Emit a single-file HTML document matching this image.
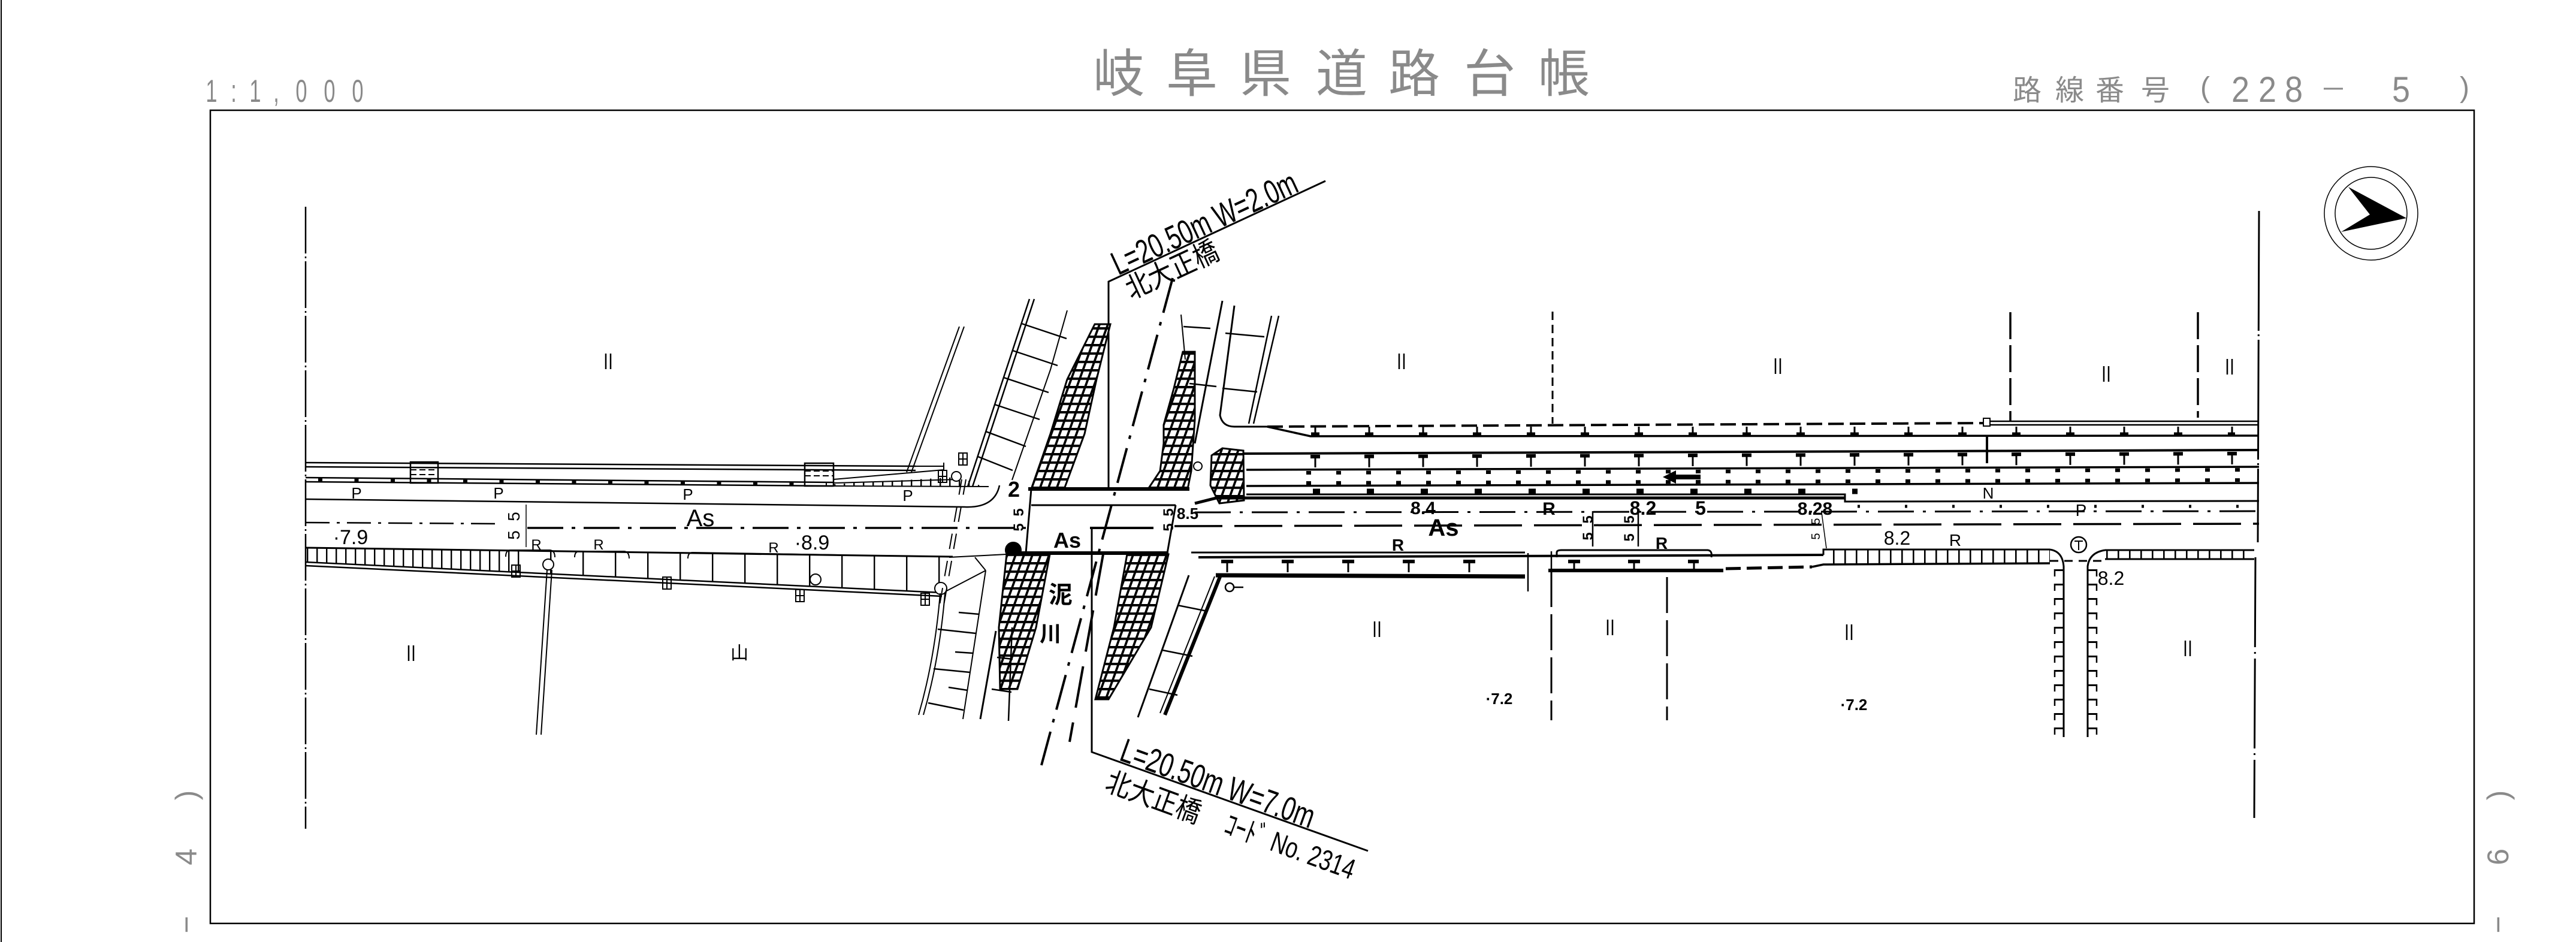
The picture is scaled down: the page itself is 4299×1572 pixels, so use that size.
<!DOCTYPE html>
<html><head><meta charset="utf-8"><title>岐阜県道路台帳</title>
<style>
html,body{margin:0;padding:0;background:#fff;width:4299px;height:1572px;overflow:hidden}
svg{display:block}
</style></head><body>
<svg xmlns="http://www.w3.org/2000/svg" width="4299" height="1572" viewBox="0 0 4299 1572" font-family="'Liberation Sans','Noto Sans CJK JP',sans-serif">
<defs>
<pattern id="grid" width="14" height="14" patternUnits="userSpaceOnUse" patternTransform="skewX(-20)">
<rect width="14" height="14" fill="#fff"/><rect width="14" height="4" fill="#000"/><rect width="4" height="14" fill="#000"/>
</pattern>
<pattern id="vt16" width="16" height="300" patternUnits="userSpaceOnUse"><rect width="2.4" height="300" fill="#000"/></pattern>
<pattern id="vt54" width="54" height="300" patternUnits="userSpaceOnUse"><rect width="2.4" height="300" fill="#000"/></pattern>
<pattern id="vt19" width="19" height="300" patternUnits="userSpaceOnUse"><rect width="2.6" height="300" fill="#000"/></pattern>
<g id="ii"><path d="M-4 -13V13M4 -13V13" stroke="#000" stroke-width="2.5" fill="none"/></g>
<g id="sq"><path d="M-7 -10H7V10H-7ZM-7 0H7M0 -10V10" stroke="#000" stroke-width="2" fill="none"/></g>
</defs>
<rect width="4299" height="1572" fill="#fff"/>

<!-- ===== Header text ===== -->
<g fill="#8a8a8a" font-size="53" text-anchor="middle">
<text transform="translate(353,170) scale(0.65,1)">1</text>
<text transform="translate(390,170) scale(0.65,1)">:</text>
<text transform="translate(426,170) scale(0.65,1)">1</text>
<text transform="translate(461,170) scale(0.65,1)">,</text>
<text transform="translate(503,170) scale(0.65,1)">0</text>
<text transform="translate(550,170) scale(0.65,1)">0</text>
<text transform="translate(597,170) scale(0.65,1)">0</text>
</g>
<g fill="#8a8a8a" font-size="86" text-anchor="middle">
<text x="1867" y="153">岐</text>
<text x="1989" y="153">阜</text>
<text x="2112" y="153">県</text>
<text x="2239" y="153">道</text>
<text x="2360" y="153">路</text>
<text x="2486" y="153">台</text>
<text x="2610" y="153">帳</text>
</g>
<g fill="#8a8a8a" font-size="48" text-anchor="middle">
<text x="3383" y="167">路</text>
<text x="3454" y="167">線</text>
<text x="3521" y="167">番</text>
<text x="3597" y="167">号</text>
<text x="3680" y="162">(</text>
<text x="4113" y="162">)</text>
</g>
<g fill="#8a8a8a" font-size="60" text-anchor="middle">
<text transform="translate(3739,170) scale(0.9,1)">2</text>
<text transform="translate(3784,170) scale(0.9,1)">2</text>
<text transform="translate(3828,170) scale(0.9,1)">8</text>
<text transform="translate(4007,170) scale(0.9,1)">5</text>
</g>
<line x1="3878" y1="148" x2="3910" y2="148" stroke="#8a8a8a" stroke-width="3"/>

<!-- side rotated labels -->
<g fill="#8a8a8a" font-size="50" text-anchor="middle">
<text transform="translate(311,1327) rotate(-90)" dy="17">)</text>
<text transform="translate(311,1430) rotate(-90)" dy="17">4</text>
<text transform="translate(311,1543) rotate(-90)" dy="17">−</text>
<text transform="translate(4169,1327) rotate(-90)" dy="17">)</text>
<text transform="translate(4169,1430) rotate(-90)" dy="17">6</text>
<text transform="translate(4169,1543) rotate(-90)" dy="17">−</text>
</g>

<g fill="none" stroke="#000" stroke-width="2">
<!-- page edge & frame -->
<line x1="2" y1="0" x2="2" y2="1572"/>
<path d="M351 184H4129V1541H351Z" stroke-width="2.5"/>

<!-- compass -->
<circle cx="3957" cy="356" r="78" stroke-width="1.5"/>
<circle cx="3957" cy="356" r="60" stroke-width="1.5"/>
<polygon points="4016,364 3919,312 3955,358 3907,387" fill="#000" stroke="none"/>

<!-- boundaries -->
<line x1="510" y1="345" x2="510" y2="1383" stroke-width="2.5" stroke-dasharray="78 5 3 5"/>
<line x1="3770" y1="352" x2="3768" y2="905" stroke-width="3" stroke-dasharray="200 6 3 6"/>
<line x1="3764" y1="930" x2="3762" y2="1365" stroke-width="3" stroke-dasharray="150 8 3 8"/>
<line x1="2591" y1="520" x2="2591" y2="707" stroke-width="3" stroke-dasharray="14 8"/>
<line x1="3355" y1="521" x2="3355" y2="703" stroke-width="3.5" stroke-dasharray="45 10"/>
<line x1="3668" y1="521" x2="3668" y2="697" stroke-width="3.5" stroke-dasharray="45 10"/>
<line x1="2589" y1="953" x2="2589" y2="1202" stroke-width="3" stroke-dasharray="60 12"/>
<line x1="2782" y1="963" x2="2782" y2="1202" stroke-width="3" stroke-dasharray="60 12"/>

<!-- ===== West road ===== -->
<path d="M510 772L1528 778M510 779L1528 785" stroke-width="2.5"/>
<path d="M510 797L1390 805M510 804L1390 811" stroke-width="2.5"/>
<rect x="685" y="771" width="46" height="35" stroke-width="2.5"/>
<path d="M685 784H731M685 792H731" stroke-dasharray="10 5"/>
<rect x="1343" y="773" width="48" height="38" stroke-width="2.5"/>
<path d="M1343 786H1391M1343 794H1391" stroke-dasharray="10 5"/>
<line x1="531" y1="800" x2="1380" y2="807" stroke-width="6" stroke-dasharray="7 53.5"/>
<path d="M1391 811L1650 812M1391 800L1575 784M1391 806L1600 800M1528 778L1575 778M1575 784L1575 772" stroke-width="2"/>
<polygon points="1391,808 1600,796 1640,812 1391,812" fill="url(#vt16)" stroke="none"/>
<path d="M510 833L1610 846Q1660 848 1668 810" stroke-width="2.5"/>
<line x1="510" y1="872" x2="835" y2="874" stroke-width="2.5" stroke-dasharray="40 12 5 12"/>
<line x1="880" y1="881" x2="1712" y2="881" stroke-width="3.5" stroke-dasharray="60 14 6 14"/>
<line x1="878" y1="842" x2="878" y2="913" stroke-width="1.5"/>
<!-- south curb -->
<line x1="510" y1="914" x2="1590" y2="929" stroke-width="3"/>
<path d="M844 929Q844 918 852 918H918Q926 919 926 930M959 930Q959 920 967 920H1042Q1050 921 1050 932M1148 932Q1148 922 1156 922L1400 926" stroke-width="2"/>
<polygon points="510,914 860,919 860,955 510,938" fill="url(#vt16)" stroke="none"/>
<polygon points="860,919 1590,929 1572,989 860,955" fill="url(#vt54)" stroke="none"/>
<path d="M510 938L1572 989M510 944L1572 995" stroke-width="2.5"/>
<use href="#sq" x="861" y="953"/>
<use href="#sq" x="1113" y="973"/>
<use href="#sq" x="1335" y="994"/>
<use href="#sq" x="1544" y="1000"/>
<use href="#sq" x="1607" y="766"/>
<use href="#sq" x="1573" y="795"/>
<circle cx="915" cy="942" r="9" fill="#fff"/>
<circle cx="1361" cy="967" r="9" fill="#fff"/>
<circle cx="1570" cy="982" r="10" fill="#fff"/>
<circle cx="1596" cy="795" r="8" fill="#fff"/>
<path d="M913 951L895 1226M921 951L903 1226"/>
<!-- old boundary // marks -->
<path d="M1605 800L1568 1010M1612 800L1575 1010" stroke-dasharray="26 20"/>

<!-- NW slanted lines & embankment -->
<path d="M1513 788L1601 545M1521 788L1609 545"/>
<path d="M1615 812L1718 499M1623 812L1726 499" stroke-width="2.5"/>
<path d="M1689 801L1753 617L1781 518"/>
<path d="M1705 540L1780 565M1690 585L1765 610M1675 630L1750 655M1660 675L1735 700M1645 720L1712 745M1632 762L1690 785" stroke-width="2.5"/>

<!-- ===== Bridge ===== -->
<path d="M1716 816H1985" stroke-width="6"/>
<path d="M1721 843H1962" stroke-width="3"/>
<path d="M1700 923H1950" stroke-width="6"/>
<path d="M1721 816L1712 923M1962 843L1948 923" stroke-width="3"/>
<path d="M1819 881H1925" stroke-width="4"/>
<circle cx="1691" cy="918" r="13" fill="#000"/>
<path d="M1850 816V470L2212 302" stroke-width="3"/>
<path d="M1822 881V1255L2283 1420" stroke-width="3"/>
<line x1="1957" y1="464" x2="1738" y2="1277" stroke-width="4" stroke-dasharray="60 16 6 16"/>
<path d="M1841 925L1785 1238" stroke-width="4" stroke-dasharray="70 25"/>

<!-- grids -->
<polygon points="1721,816 1753,724 1781,633 1827,541 1853,541 1830,633 1810,724 1776,816" fill="url(#grid)" stroke-width="3"/>
<polygon points="1916,816 1936,786 1942,740 1942,709 1959,648 1974,587 1994,587 1994,700 1988,786 1982,816" fill="url(#grid)" stroke-width="3"/>
<polygon points="2022,760 2040,748 2075,752 2076,835 2035,840 2020,810" fill="url(#grid)" stroke-width="3"/>
<polygon points="1680,925 1752,925 1729,1047 1698,1150 1669,1150 1667,1047" fill="url(#grid)" stroke-width="3"/>
<polygon points="1881,925 1950,925 1921,1047 1850,1167 1828,1167 1859,1047" fill="url(#grid)" stroke-width="3"/>

<!-- west-south embankment -->
<path d="M1569 990Q1560 1100 1533 1193M1577 990Q1568 1100 1541 1193" stroke-width="2"/>
<path d="M1645 952L1607 1200M1578 987L1645 952M1627 930L1645 952M1584 930L1680 925" stroke-width="2"/>
<path d="M1600 1022L1634 1025M1565 1050L1629 1057M1594 1088L1624 1090M1558 1116L1619 1122M1583 1147L1615 1152M1549 1173L1608 1185" stroke-width="2.5"/>
<path d="M1662 1053L1636 1200" stroke-width="3"/>
<path d="M1689 1047L1683 1203" stroke-width="2.5"/>
<path d="M1664 1097L1690 1100M1655 1150L1688 1155" stroke-width="2.5"/>

<!-- east-north embankment -->
<path d="M2040 502L1994 740" stroke-width="3"/>
<path d="M2060 510L2036 693Q2040 712 2060 712L2115 712" stroke-width="3"/>
<path d="M2122 527L2084 707M2134 527L2092 707" stroke-width="2.5"/>
<path d="M2045 556L2110 562M2040 648L2098 654M1975 545L2020 548M1985 640L2030 645" stroke-width="2.5"/>
<path d="M1971 525L1978 600"/>
<circle cx="1999" cy="778" r="7"/>

<!-- ===== East road north side ===== -->
<path d="M2115 712L3316 706" stroke-width="4" stroke-dasharray="26 10"/>
<path d="M3316 703H3770M3316 709H3770" stroke-width="2.5"/>
<rect x="3310" y="698" width="11" height="13" fill="#fff"/>
<path d="M3316 727V773" stroke-width="4"/>
<path d="M2115 712L2187 728L3770 727" stroke-width="3.5"/>
<line x1="2193.5" y1="719" x2="3730" y2="719" stroke-width="14" stroke-dasharray="3 87"/>
<line x1="2188" y1="724" x2="3730" y2="724" stroke-width="5" stroke-dasharray="14 76"/>
<path d="M2075 757L3770 751" stroke-width="4"/>
<line x1="2187" y1="762" x2="3735" y2="757" stroke-width="6" stroke-dasharray="16 74"/>
<line x1="2193.5" y1="771" x2="3735" y2="766" stroke-width="18" stroke-dasharray="3 87"/>
<path d="M2080 784L3770 779" stroke-width="3.5"/>
<line x1="2180" y1="789" x2="3770" y2="784" stroke-width="6" stroke-dasharray="8 42"/>
<path d="M2080 811L3770 806" stroke-width="3.5"/>
<line x1="2180" y1="806" x2="3770" y2="801" stroke-width="6" stroke-dasharray="8 42"/>
<line x1="2191" y1="820" x2="3100" y2="820" stroke-width="9" stroke-dasharray="12 78"/>
<path d="M2080 825L3079 825L3079 837L3770 836" stroke-width="3"/>
<path d="M1994 840L2030 831L3079 831" stroke-width="5"/>
<line x1="3100" y1="845" x2="3770" y2="845" stroke-width="5" stroke-dasharray="4 75"/>
<path d="M2775 796L2797 785V792H2838V800H2797V807Z" fill="#000" stroke="none"/>

<!-- main road east -->
<line x1="1994" y1="855" x2="3770" y2="853" stroke-width="3" stroke-dasharray="60 15 5 15"/>
<line x1="1960" y1="878" x2="3770" y2="874" stroke-width="3.5" stroke-dasharray="80 20"/>
<path d="M2658 853V912M2734 853V912" stroke-width="2.5"/>
<path d="M3040 855L3048 915" stroke-width="1.5"/>

<!-- east road south side -->
<path d="M1988 922H2545" stroke-width="3"/>
<path d="M2598 930V922Q2598 918 2606 918H2850Q2858 919 2856 930" stroke-width="3"/>
<path d="M2000 930L3043 926" stroke-width="4"/>
<line x1="2038" y1="937" x2="2470" y2="937" stroke-width="6" stroke-dasharray="20 81"/>
<line x1="2046.5" y1="946" x2="2470" y2="946" stroke-width="18" stroke-dasharray="3 98"/>
<line x1="2617" y1="937" x2="2835" y2="937" stroke-width="6" stroke-dasharray="20 80"/>
<line x1="2625.5" y1="946" x2="2835" y2="946" stroke-width="18" stroke-dasharray="3 97"/>
<path d="M2029 960L2545 962" stroke-width="7"/>
<path d="M2584 952H2876" stroke-width="6"/>
<path d="M2880 949L3024 946" stroke-width="5" stroke-dasharray="25 10"/>
<path d="M2550 923V987M2589 920V965" stroke-width="2.5"/>
<path d="M3024 946L3043 942L3421 940" stroke-width="3.5"/>
<path d="M3043 926L3043 917L3421 917" stroke-width="3"/>
<polygon points="3043,917 3421,917 3421,940 3043,942" fill="url(#vt19)" stroke="none"/>
<path d="M3513 918H3762M3513 933H3762" stroke-width="3"/>
<polygon points="3513,918 3762,918 3762,933 3513,933" fill="url(#vt19)" stroke="none"/>
<path d="M3421 936H3513" stroke-width="3" stroke-dasharray="14 10"/>

<!-- side road south -->
<path d="M3421 917Q3442 920 3444 945V1230M3513 918Q3487 922 3484 945V1230" stroke-width="3"/>
<line x1="3436.5" y1="950" x2="3436.5" y2="1230" stroke-width="15" stroke-dasharray="3 21"/>
<line x1="3429" y1="950" x2="3429" y2="1230" stroke-width="2.5" stroke-dasharray="12 12"/>
<line x1="3491.5" y1="950" x2="3491.5" y2="1230" stroke-width="15" stroke-dasharray="3 21"/>
<line x1="3499" y1="950" x2="3499" y2="1230" stroke-width="2.5" stroke-dasharray="12 12"/>
<circle cx="3469" cy="909" r="13" stroke-width="2.5"/>
<path d="M3462 903H3476M3469 903V918" stroke-width="2"/>

<!-- east-south embankment -->
<path d="M2037 960L1944 1193" stroke-width="6"/>
<path d="M2027 962L1936 1190" stroke-width="2"/>
<path d="M1984 960L1899 1197" stroke-width="3"/>
<path d="M1965 1010L2015 1020M1940 1085L1990 1095M1918 1150L1965 1160" stroke-width="2.5"/>
<circle cx="2052" cy="980" r="7" stroke-width="2.5"/>
<path d="M2059 980H2075" stroke-width="2.5"/>
</g>

<!-- "II" field marks -->
<use href="#ii" x="1015" y="603"/>
<use href="#ii" x="686" y="1090"/>
<use href="#ii" x="2339" y="603"/>
<use href="#ii" x="2967" y="611"/>
<use href="#ii" x="3515" y="624"/>
<use href="#ii" x="3721" y="612"/>
<use href="#ii" x="2298" y="1050"/>
<use href="#ii" x="2687" y="1047"/>
<use href="#ii" x="3086" y="1055"/>
<use href="#ii" x="3651" y="1082"/>

<!-- labels (thin) -->
<g fill="#000" text-anchor="middle">
<text x="1234" y="1100" font-size="30">山</text>
<text x="595" y="832" font-size="26">P</text>
<text x="832" y="832" font-size="26">P</text>
<text x="1148" y="834" font-size="26">P</text>
<text x="1515" y="836" font-size="26">P</text>
<text x="1169" y="878" font-size="40">As</text>
<text x="585" y="908" font-size="34">·7.9</text>
<text x="1355" y="917" font-size="34">·8.9</text>
<text x="895" y="917" font-size="24">R</text>
<text x="999" y="917" font-size="24">R</text>
<text x="1291" y="922" font-size="24">R</text>
<text transform="translate(857,862) rotate(-90)" font-size="28" dy="10">5</text>
<text transform="translate(857,893) rotate(-90)" font-size="28" dy="10">5</text>
<text x="3166" y="909" font-size="32">8.2</text>
<text x="3263" y="911" font-size="28">R</text>
<text x="3318" y="832" font-size="26">N</text>
<text x="3473" y="861" font-size="28">P</text>
<text x="3523" y="976" font-size="32">8.2</text>
<text transform="translate(3030,870) rotate(-90)" font-size="20" dy="7">5</text>
<text transform="translate(3030,895) rotate(-90)" font-size="20" dy="7">5</text>
</g>
<!-- labels (bold) -->
<g fill="#000" font-weight="bold" text-anchor="middle">
<text x="1692" y="829" font-size="36">2</text>
<text x="1781" y="914" font-size="36">As</text>
<text x="1982" y="866" font-size="26">8.5</text>
<text x="2375" y="858" font-size="30">8.4</text>
<text x="2585" y="859" font-size="30">R</text>
<text x="2742" y="859" font-size="32">8.2</text>
<text x="2838" y="859" font-size="32">5</text>
<text x="3029" y="859" font-size="30">8.28</text>
<text x="2409" y="894" font-size="40">As</text>
<text x="2333" y="919" font-size="28">R</text>
<text x="2773" y="916" font-size="28">R</text>
<text x="2502" y="1175" font-size="26">·7.2</text>
<text x="3094" y="1185" font-size="26">·7.2</text>
<text x="1770" y="1006" font-size="40">泥</text>
<text x="1753" y="1070" font-size="36">川</text>
<text transform="translate(1700,855) rotate(-90)" font-size="24" dy="8">5</text>
<text transform="translate(1700,880) rotate(-90)" font-size="24" dy="8">5</text>
<text transform="translate(1950,855) rotate(-90)" font-size="24" dy="8">5</text>
<text transform="translate(1950,880) rotate(-90)" font-size="24" dy="8">5</text>
<text transform="translate(2650,867) rotate(-90)" font-size="24" dy="8">5</text>
<text transform="translate(2650,895) rotate(-90)" font-size="24" dy="8">5</text>
<text transform="translate(2719,867) rotate(-90)" font-size="24" dy="8">5</text>
<text transform="translate(2719,897) rotate(-90)" font-size="24" dy="8">5</text>
</g>

<!-- bridge labels -->
<g fill="#000">
<text transform="translate(1866,460) rotate(-24.9)" font-size="56" textLength="335" lengthAdjust="spacingAndGlyphs">L=20.50m  W=2.0m</text>
<text transform="translate(1888,500) rotate(-24.9)" font-size="48" textLength="165" lengthAdjust="spacingAndGlyphs">北大正橋</text>
<text transform="translate(1866,1268) rotate(19.7)" font-size="56" textLength="340" lengthAdjust="spacingAndGlyphs">L=20.50m  W=7.0m</text>
<text transform="translate(1842,1318) rotate(20)" font-size="48" textLength="165" lengthAdjust="spacingAndGlyphs">北大正橋</text>
<text transform="translate(2040,1390) rotate(20)" font-size="48" textLength="228" lengthAdjust="spacingAndGlyphs">ｺｰﾄﾞ No. 2314</text>
</g>
</svg>
</body></html>
